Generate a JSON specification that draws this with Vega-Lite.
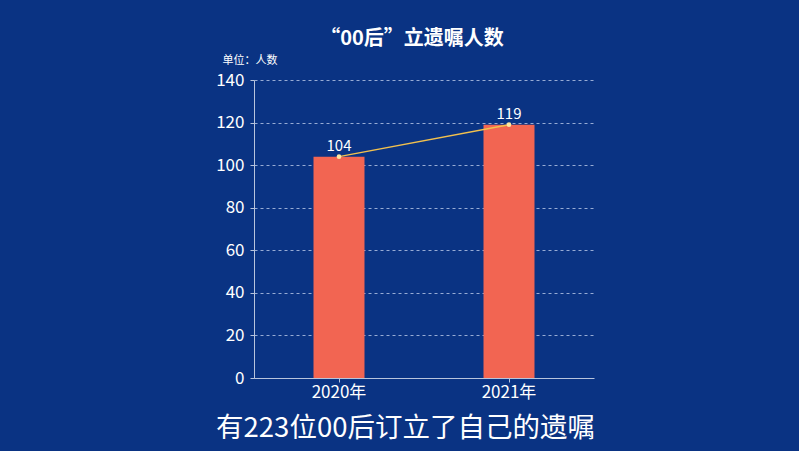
{
  "$schema": "https://vega.github.io/schema/vega-lite/v6.json",
  "autosize": "none",
  "width": 340,
  "height": 298,
  "padding": {"left": 254, "top": 80, "right": 205, "bottom": 73},
  "background": "#0a3383",
  "config": {
    "view": {"stroke": null},
    "font": "Noto Sans CJK SC"
  },
  "title": {
    "text": "“00后”立遗嘱人数",
    "color": "#ffffff",
    "fontSize": 20,
    "fontWeight": "bold",
    "font": "Noto Sans CJK SC",
    "anchor": "middle",
    "dx": -12,
    "offset": 5
  },
  "data": {
    "values": [
      {"year": "2020年", "count": 104},
      {"year": "2021年", "count": 119}
    ]
  },
  "encoding": {
    "x": {
      "field": "year",
      "type": "nominal",
      "sort": null,
      "scale": {"paddingInner": 0.7, "paddingOuter": 0.35},
      "axis": {
        "title": "有223位00后订立了自己的遗嘱",
        "titleColor": "#ffffff",
        "titleFontSize": 27.5,
        "titleFontWeight": "normal",
        "titleX": 151,
        "titleY": 50,
        "titleBaseline": "middle",
        "titleAlign": "center",
        "labelAngle": 0,
        "labelColor": "#ffffff",
        "labelFontSize": 17,
        "labelPadding": 2,
        "domainColor": "#b8c4dc",
        "tickColor": "#b8c4dc",
        "tickSize": 4
      }
    },
    "y": {
      "field": "count",
      "type": "quantitative",
      "scale": {"domain": [0, 140]},
      "axis": {
        "values": [0, 20, 40, 60, 80, 100, 120, 140],
        "title": "单位：人数",
        "titleAngle": 0,
        "titleX": -32,
        "titleY": -20,
        "titleAlign": "left",
        "titleBaseline": "middle",
        "titleColor": "#ffffff",
        "titleFontSize": 11,
        "titleFontWeight": "normal",
        "labelColor": "#ffffff",
        "labelFontSize": 17,
        "labelPadding": 6,
        "domainColor": "#b8c4dc",
        "tickColor": "#b8c4dc",
        "tickSize": 4,
        "grid": true,
        "gridColor": "#c8d6f0",
        "gridOpacity": 0.75,
        "gridDash": [3, 3]
      }
    }
  },
  "layer": [
    {"mark": {"type": "bar", "color": "#f26552"}},
    {"mark": {"type": "line", "color": "#f2c14e", "strokeWidth": 1.5}},
    {"mark": {"type": "point", "filled": true, "color": "#ffe6a0", "size": 22, "opacity": 1}},
    {
      "mark": {"type": "text", "color": "#ffffff", "fontSize": 15, "dy": -11, "baseline": "middle"},
      "encoding": {"text": {"field": "count", "type": "quantitative"}}
    }
  ]
}
